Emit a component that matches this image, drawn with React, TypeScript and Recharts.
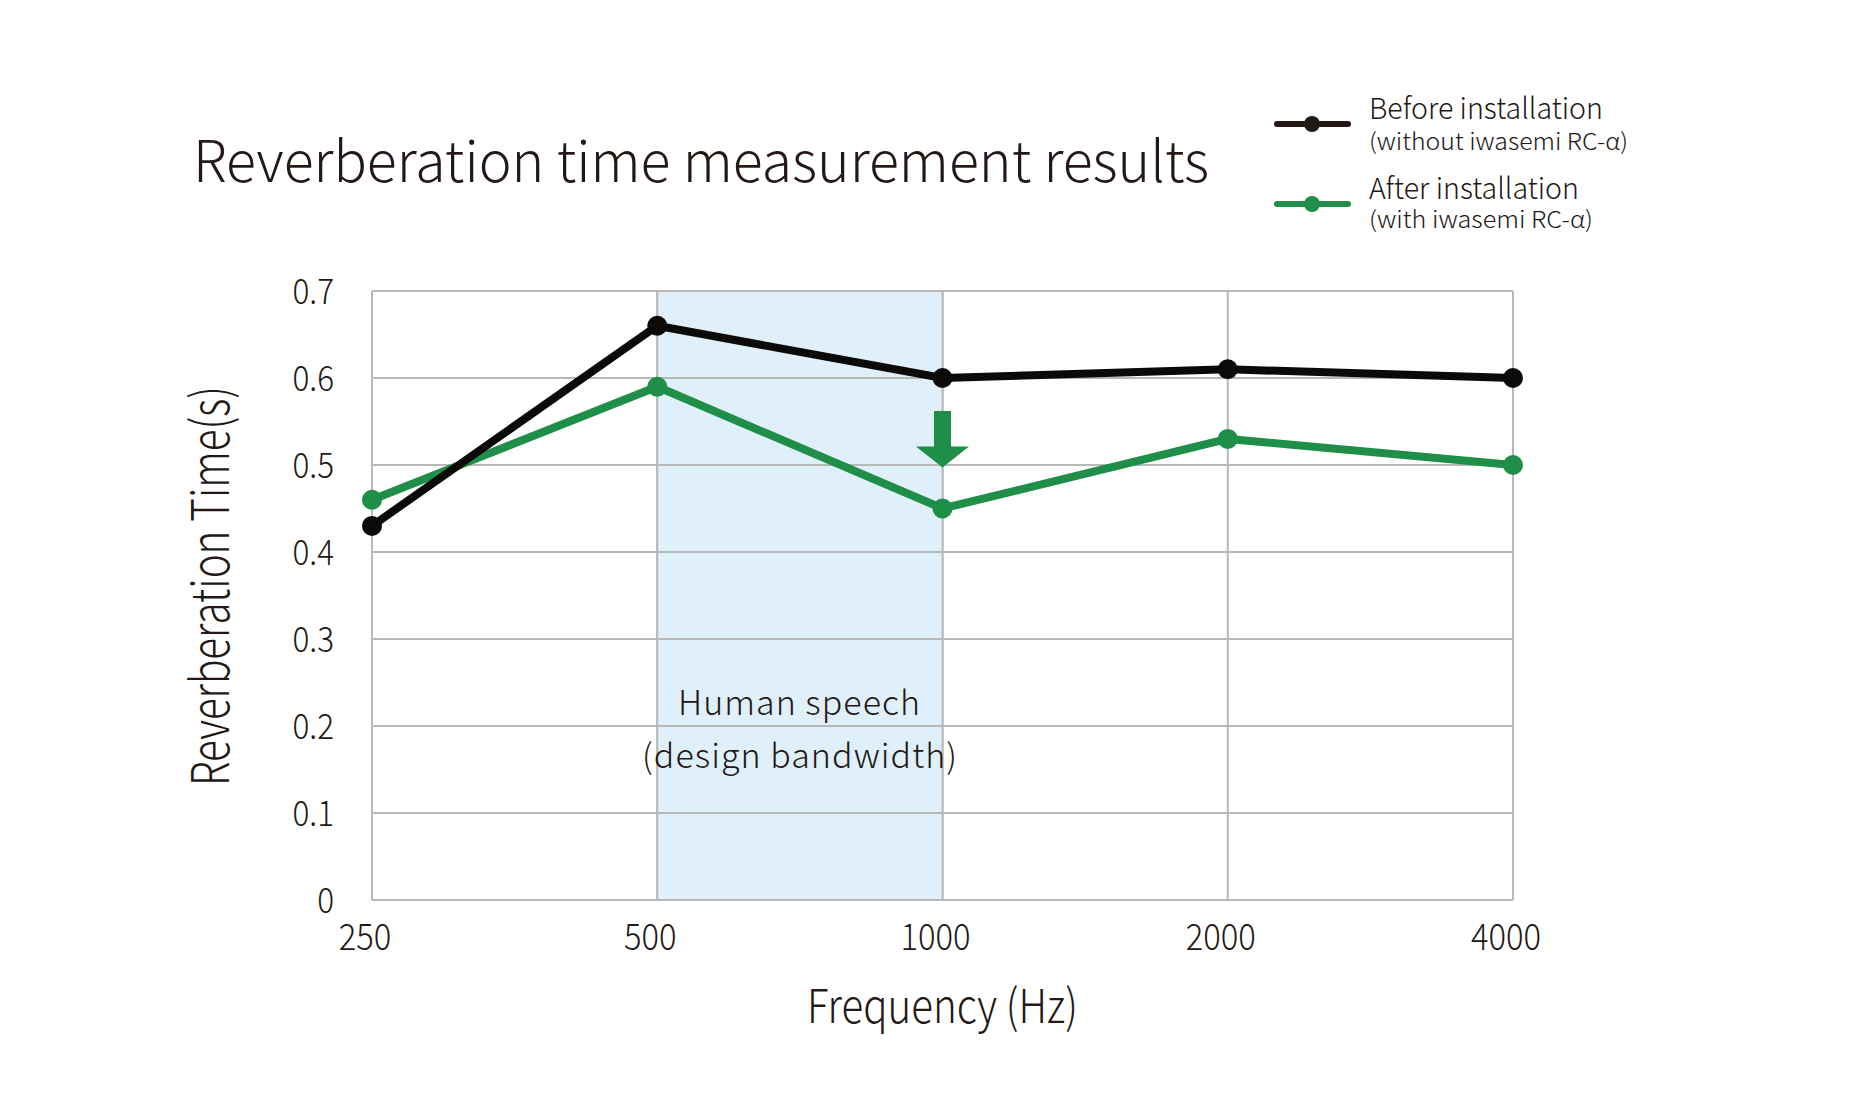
import React from 'react';
import { LineChart, Line, XAxis, YAxis, CartesianGrid, ReferenceArea, ReferenceLine } from 'recharts';

const categories = ['250', '500', '1000', '2000', '4000'];
const beforeValues = [0.43, 0.66, 0.6, 0.61, 0.6];
const afterValues = [0.46, 0.59, 0.45, 0.53, 0.5];
const yTicks = [0, 0.1, 0.2, 0.3, 0.4, 0.5, 0.6, 0.7];
const bandStart = '500';
const bandEnd = '1000';
const arrowAt = '1000';
const arrowTop = 0.562;
const arrowTip = 0.497;

const data = categories.map((c, i) => ({ freq: c, before: beforeValues[i], after: afterValues[i] }));

const FONT = '"Noto Sans CJK JP Light", "Noto Sans CJK JP", "Noto Sans", sans-serif';
const TEXT = '#231815';
const BLACK = '#0c0909';
const GREEN = '#1f8e48';
const GRID = '#b8b8b8';

const XTick = (props: any) => {
  const { x, y, payload } = props;
  return (
    <g transform={`translate(${x - 7},${y + 50})`}>
      <text textAnchor="middle" transform="scale(0.91,1)" fontFamily={FONT} fontWeight={300} fontSize={36} fill={TEXT}>
        {payload.value}
      </text>
    </g>
  );
};

const YTick = (props: any) => {
  const { x, y, payload } = props;
  return (
    <g transform={`translate(${x - 38},${y + 13})`}>
      <text textAnchor="end" transform="scale(0.9,1)" fontFamily={FONT} fontWeight={300} fontSize={35} fill={TEXT}>
        {String(payload.value)}
      </text>
    </g>
  );
};

const ArrowShape = (props: any) => {
  const { x1, y1, y2 } = props;
  if (x1 == null || y1 == null || y2 == null) return <g />;
  const cx = x1;
  const top = Math.min(y1, y2);
  const tip = Math.max(y1, y2);
  const headH = 21;
  const shaftW = 17;
  const headW = 53;
  const pts = [
    [cx - shaftW / 2, top],
    [cx + shaftW / 2, top],
    [cx + shaftW / 2, tip - headH],
    [cx + headW / 2, tip - headH],
    [cx, tip],
    [cx - headW / 2, tip - headH],
    [cx - shaftW / 2, tip - headH],
  ]
    .map((p) => p.join(','))
    .join(' ');
  return <polygon points={pts} fill={GREEN} />;
};

export default function App() {
  return (
    <div style={{ position: 'absolute', left: 0, top: 0, width: 1853, height: 1120, background: '#fff' }}>
      <LineChart width={1853} height={1120} data={data} margin={{ top: 291, right: 340, bottom: 160, left: 272 }}>
        <ReferenceArea x1={bandStart} x2={bandEnd} y1={0} y2={0.7} fill="#dff0fa" fillOpacity={1} stroke="none" ifOverflow="visible" />
        <CartesianGrid stroke={GRID} strokeWidth={2} />
        {yTicks.map((t) => (
          <ReferenceLine key={'h' + t} y={t} stroke={GRID} strokeWidth={2} ifOverflow="visible" />
        ))}
        {[bandStart, bandEnd].map((c) => (
          <ReferenceLine key={'v' + c} x={c} stroke={GRID} strokeWidth={2} ifOverflow="visible" />
        ))}
        <XAxis
          dataKey="freq"
          height={60}
          axisLine={false}
          tickLine={false}
          tickSize={0}
          tickMargin={0}
          interval={0}
          tick={<XTick />}
        />
        <YAxis
          width={100}
          domain={[0, 0.7]}
          ticks={yTicks}
          type="number"
          axisLine={false}
          tickLine={false}
          tickSize={0}
          tickMargin={0}
          interval={0}
          tick={<YTick />}
        />
        <ReferenceLine
          segment={[
            { x: arrowAt, y: arrowTop },
            { x: arrowAt, y: arrowTip },
          ]}
          shape={ArrowShape}
          ifOverflow="visible"
        />
        <Line
          dataKey="after"
          stroke={GREEN}
          strokeWidth={8}
          dot={{ r: 10, fill: GREEN, stroke: 'none' }}
          activeDot={false}
          isAnimationActive={false}
        />
        <Line
          dataKey="before"
          stroke={BLACK}
          strokeWidth={8}
          dot={{ r: 10, fill: BLACK, stroke: 'none' }}
          activeDot={false}
          isAnimationActive={false}
        />
      </LineChart>
      <svg
        width={1853}
        height={1120}
        style={{ position: 'absolute', left: 0, top: 0, pointerEvents: 'none' }}
        fontFamily={FONT}
        fontWeight={300}
        fill={TEXT}
      >
        <text x={193} y={182} fontSize={57} textLength={1016} lengthAdjust="spacingAndGlyphs">
          Reverberation time measurement results
        </text>

        <line x1={1277} y1={124} x2={1348} y2={124} stroke="#231815" strokeWidth={6} strokeLinecap="round" />
        <circle cx={1312} cy={124} r={8} fill="#231815" />
        <text x={1369} y={119} fontSize={29} textLength={234} lengthAdjust="spacingAndGlyphs">
          Before installation
        </text>
        <text x={1369} y={150} fontSize={23} textLength={259} lengthAdjust="spacingAndGlyphs">
          (without iwasemi RC-α)
        </text>

        <line x1={1277} y1={204} x2={1348} y2={204} stroke={GREEN} strokeWidth={6} strokeLinecap="round" />
        <circle cx={1312} cy={204} r={8} fill={GREEN} />
        <text x={1369} y={199} fontSize={29} textLength={210} lengthAdjust="spacingAndGlyphs">
          After installation
        </text>
        <text x={1369} y={228} fontSize={23} textLength={224} lengthAdjust="spacingAndGlyphs">
          (with iwasemi RC-α)
        </text>

        <text x={678} y={715} fontSize={34} textLength={242} lengthAdjust="spacing">
          Human speech
        </text>
        <text x={642} y={768} fontSize={34} textLength={315} lengthAdjust="spacing">
          (design bandwidth)
        </text>

        <text x={807} y={1023} fontSize={47} textLength={271} lengthAdjust="spacingAndGlyphs">
          Frequency (Hz)
        </text>

        <text
          transform="translate(229,786) rotate(-90)"
          x={0}
          y={0}
          fontSize={52}
          textLength={400}
          lengthAdjust="spacingAndGlyphs"
        >
          Reverberation Time(s)
        </text>
      </svg>
    </div>
  );
}
